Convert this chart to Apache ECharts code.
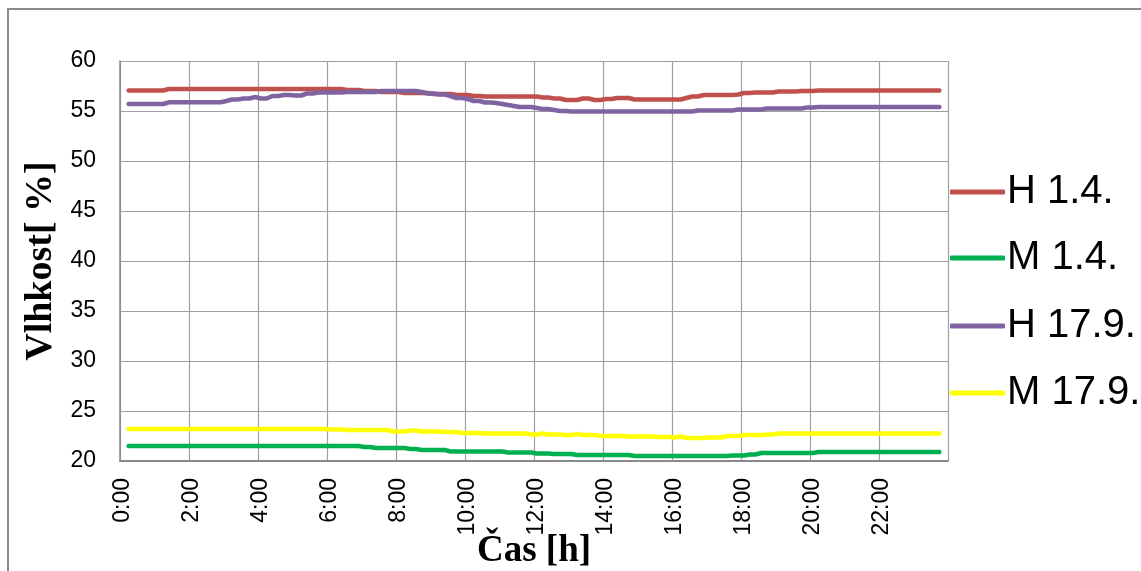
<!DOCTYPE html>
<html>
<head>
<meta charset="utf-8">
<script src="https://cdn.jsdelivr.net/npm/echarts@6/dist/echarts.min.js"></script>
<style>html,body{margin:0;padding:0;background:#fff}#c{width:1141px;height:571px}</style>
</head>
<body>
<div id="c"></div>
<script>
// 10-minute categories 0:00 ... 23:50
const categories = [];
for (let h = 0; h < 24; h++) for (let m = 0; m < 60; m += 10) categories.push(h + ':' + (m < 10 ? '0' + m : m));

const seriesNames = ['H 1.4.', 'M 1.4.', 'H 17.9.', 'M 17.9.'];
const seriesColors = ['#C0504D', '#00B050', '#8064A2', '#FFFF00'];

const h_1_4 = [
  null,57.05,57.05,57.05,57.05,57.05,57.05,57.05,57.2,57.2,57.2,57.2,
  57.2,57.2,57.2,57.2,57.2,57.2,57.2,57.2,57.2,57.2,57.2,57.2,
  57.2,57.2,57.2,57.2,57.2,57.2,57.2,57.2,57.2,57.2,57.2,57.2,
  57.2,57.2,57.2,57.1,57.1,57.1,57.0,57.0,57.0,56.9,56.9,56.9,
  56.9,56.8,56.8,56.8,56.8,56.8,56.7,56.7,56.7,56.7,56.6,56.6,
  56.6,56.5,56.5,56.45,56.45,56.45,56.45,56.45,56.45,56.45,56.45,56.45,
  56.45,56.35,56.35,56.25,56.25,56.1,56.1,56.1,56.25,56.25,56.1,56.1,
  56.2,56.2,56.3,56.3,56.3,56.15,56.15,56.15,56.15,56.15,56.15,56.15,
  56.15,56.15,56.3,56.45,56.45,56.6,56.6,56.6,56.6,56.6,56.6,56.65,
  56.8,56.8,56.85,56.85,56.85,56.85,56.95,56.95,56.95,56.95,57.0,57.0,
  57.0,57.05,57.05,57.05,57.05,57.05,57.05,57.05,57.05,57.05,57.05,57.05,
  57.05,57.05,57.05,57.05,57.05,57.05,57.05,57.05,57.05,57.05,57.05,null
];
const m_1_4 = [
  null,21.5,21.5,21.5,21.5,21.5,21.5,21.5,21.5,21.5,21.5,21.5,
  21.5,21.5,21.5,21.5,21.5,21.5,21.5,21.5,21.5,21.5,21.5,21.5,
  21.5,21.5,21.5,21.5,21.5,21.5,21.5,21.5,21.5,21.5,21.5,21.5,
  21.5,21.5,21.5,21.5,21.5,21.5,21.4,21.4,21.3,21.3,21.3,21.3,
  21.3,21.3,21.2,21.2,21.1,21.1,21.1,21.1,21.1,20.95,20.95,20.95,
  20.95,20.95,20.95,20.95,20.95,20.95,20.95,20.85,20.85,20.85,20.85,20.85,
  20.75,20.75,20.75,20.7,20.7,20.7,20.7,20.6,20.6,20.6,20.6,20.6,
  20.6,20.6,20.6,20.6,20.6,20.5,20.5,20.5,20.5,20.5,20.5,20.5,
  20.5,20.5,20.5,20.5,20.5,20.5,20.5,20.5,20.5,20.5,20.55,20.55,
  20.55,20.65,20.65,20.8,20.8,20.8,20.8,20.8,20.8,20.8,20.8,20.8,
  20.8,20.9,20.9,20.9,20.9,20.9,20.9,20.9,20.9,20.9,20.9,20.9,
  20.9,20.9,20.9,20.9,20.9,20.9,20.9,20.9,20.9,20.9,20.9,null
];
const h_17_9 = [
  null,55.7,55.7,55.7,55.7,55.7,55.7,55.7,55.87,55.87,55.87,55.87,
  55.87,55.87,55.87,55.87,55.87,55.87,56.0,56.15,56.15,56.25,56.25,56.4,
  56.25,56.25,56.5,56.5,56.6,56.6,56.55,56.55,56.75,56.75,56.85,56.85,
  56.85,56.85,56.85,56.9,56.9,56.9,56.9,56.9,56.9,57.0,57.0,57.0,
  57.0,57.0,57.0,57.0,56.9,56.75,56.75,56.65,56.65,56.5,56.3,56.3,
  56.2,56.0,56.0,55.85,55.85,55.8,55.7,55.6,55.5,55.4,55.4,55.4,
  55.3,55.2,55.2,55.1,55.0,55.0,54.95,54.95,54.95,54.95,54.95,54.95,
  54.95,54.95,54.95,54.95,54.95,54.95,54.95,54.95,54.95,54.95,54.95,54.95,
  54.95,54.95,54.95,54.95,55.05,55.05,55.05,55.05,55.05,55.05,55.05,55.15,
  55.15,55.15,55.15,55.15,55.25,55.25,55.25,55.25,55.25,55.25,55.25,55.35,
  55.35,55.4,55.4,55.4,55.4,55.4,55.4,55.4,55.4,55.4,55.4,55.4,
  55.4,55.4,55.4,55.4,55.4,55.4,55.4,55.4,55.4,55.4,55.4,null
];
const m_17_9 = [
  null,23.2,23.2,23.2,23.2,23.2,23.2,23.2,23.2,23.2,23.2,23.2,
  23.2,23.2,23.2,23.2,23.2,23.2,23.2,23.2,23.2,23.2,23.2,23.2,
  23.2,23.2,23.2,23.2,23.2,23.2,23.2,23.2,23.2,23.2,23.2,23.2,
  23.15,23.15,23.15,23.1,23.1,23.1,23.1,23.1,23.1,23.1,23.1,22.95,
  22.95,22.95,23.05,23.05,22.95,22.95,22.95,22.95,22.9,22.9,22.9,22.8,
  22.8,22.8,22.8,22.75,22.75,22.75,22.75,22.75,22.75,22.75,22.75,22.65,
  22.65,22.75,22.65,22.65,22.65,22.6,22.6,22.7,22.6,22.6,22.6,22.5,
  22.5,22.5,22.5,22.5,22.45,22.45,22.45,22.45,22.45,22.4,22.4,22.4,
  22.35,22.45,22.3,22.3,22.3,22.3,22.35,22.35,22.35,22.5,22.5,22.5,
  22.6,22.6,22.6,22.6,22.65,22.65,22.75,22.75,22.75,22.75,22.75,22.75,
  22.75,22.75,22.75,22.75,22.75,22.75,22.75,22.75,22.75,22.75,22.75,22.75,
  22.75,22.75,22.75,22.75,22.75,22.75,22.75,22.75,22.75,22.75,22.75,null
];
const seriesData = [h_1_4, m_1_4, h_17_9, m_17_9];

const yTicks = { min: 20, max: 60, interval: 5 };
const labelEvery = 12; // one label every 2 hours

const chart = echarts.init(document.getElementById('c'), null, { renderer: 'canvas' });

const legendTops = [172, 238, 306, 373];

const option = {
  backgroundColor: '#ffffff',
  animation: false,
  graphic: [{
    type: 'rect',
    shape: { x: 8, y: 9, width: 1150, height: 600 },
    style: { fill: 'none', stroke: '#8a8a8a', lineWidth: 2 },
    silent: true
  }],
  grid: { left: 120, top: 61, right: 193, bottom: 110, containLabel: false, outerBoundsMode: 'none' },
  legend: seriesNames.map((n, i) => ({
    data: [n],
    left: 950,
    top: legendTops[i],
    orient: 'vertical',
    icon: 'roundRect',
    itemWidth: 55,
    itemHeight: 5,
    itemGap: 0,
    textStyle: { fontFamily: 'Liberation Sans', fontSize: 40, color: '#000', lineHeight: 40, padding: [0, 0, 0, -3] },
    padding: 0,
    selectedMode: false
  })),
  xAxis: {
    type: 'category',
    data: categories,
    boundaryGap: true,
    name: 'Čas [h]',
    nameLocation: 'middle',
    nameGap: 72,
    nameMoveOverlap: false,
    nameTextStyle: { fontFamily: 'Liberation Serif', fontWeight: 'bold', fontSize: 37, color: '#000' },
    axisLine: { show: true, lineStyle: { color: '#8a8a8a', width: 2 } },
    axisTick: { show: false, interval: labelEvery - 1 },
    axisLabel: { interval: labelEvery - 1, rotate: 90, margin: 17, fontFamily: 'Liberation Sans', fontSize: 23, color: '#000' },
    splitLine: { show: true, interval: labelEvery - 1, lineStyle: { color: '#a0a0a0', width: 1.2 } }
  },
  yAxis: {
    type: 'value',
    min: yTicks.min,
    max: yTicks.max,
    interval: yTicks.interval,
    name: 'Vlhkost[ %]',
    nameLocation: 'middle',
    nameGap: 60,
    nameRotate: 90,
    nameMoveOverlap: false,
    nameTextStyle: { fontFamily: 'Liberation Serif', fontWeight: 'bold', fontSize: 38, color: '#000' },
    axisLine: { show: true, lineStyle: { color: '#8a8a8a', width: 1.5 } },
    axisTick: { show: false },
    axisLabel: { margin: 24, fontFamily: 'Liberation Sans', fontSize: 23, color: '#000' },
    splitLine: { show: true, lineStyle: { color: '#a0a0a0', width: 1.2 } }
  },
  series: seriesNames.map((n, i) => ({
    name: n,
    type: 'line',
    data: seriesData[i],
    symbol: 'none',
    smooth: false,
    connectNulls: false,
    color: seriesColors[i],
    lineStyle: { width: 4.5, color: seriesColors[i], cap: 'round', join: 'round' }
  }))
};
chart.setOption(option);
</script>
</body>
</html>
